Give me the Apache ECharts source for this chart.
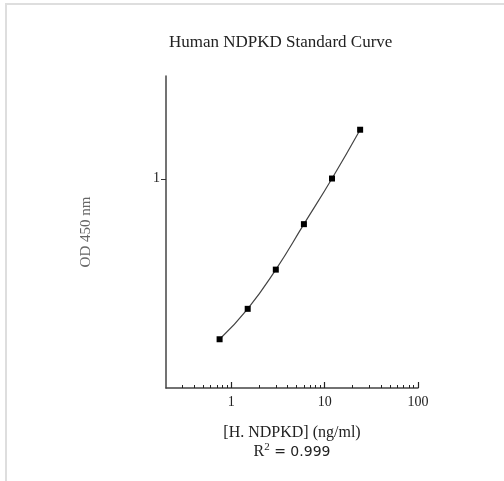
<!DOCTYPE html>
<html>
<head>
<meta charset="utf-8">
<script src="https://cdn.jsdelivr.net/npm/echarts@6/dist/echarts.min.js"></script>
<style>
html,body{margin:0;padding:0;background:#fff;}
#chart{width:504px;height:481px;}
</style>
</head>
<body>
<div id="chart"></div>
<script>
const concentrations = [0.75, 1.5, 3, 6, 12, 24];
const odValues = [0.171, 0.239, 0.368, 0.607, 1.003, 1.716];
const xMajorTicks = [1, 10, 100];
const xMinorTicks = [0.3, 0.4, 0.5, 0.6, 0.7, 0.8, 0.9, 2, 3, 4, 5, 6, 7, 8, 9, 20, 30, 40, 50, 60, 70, 80, 90];
const yTicks = [1];

const serif = '"Liberation Serif", "DejaVu Serif", serif';
const chart = echarts.init(document.getElementById('chart'));
chart.setOption({
  backgroundColor: '#fff',
  animation: false,
  title: {
    text: 'Human NDPKD Standard Curve',
    left: 164, top: 29,
    textStyle: {fontFamily: serif, fontSize: 17, fontWeight: 'normal', color: '#222'}
  },
  grid: {left: 166, right: 86, top: 76, bottom: 93},
  xAxis: [{
    type: 'log', logBase: 10, min: 0.2, max: 100,
    name: '[H. NDPKD] (ng/ml)', nameLocation: 'middle', nameGap: 37,
    nameTextStyle: {fontFamily: serif, fontSize: 16, color: '#222'},
    axisLine: {show: true, lineStyle: {color: '#444', width: 1.5}},
    axisTick: {show: true, inside: true, length: 3, customValues: xMinorTicks, lineStyle: {color: '#222', width: 1}},
    axisLabel: {customValues: xMajorTicks, fontFamily: serif, fontSize: 14, color: '#222', margin: 7},
    splitLine: {show: false}
  }, {
    type: 'log', logBase: 10, min: 0.2, max: 100, position: 'bottom',
    axisLine: {show: false},
    axisTick: {show: true, inside: true, length: 6, customValues: xMajorTicks, lineStyle: {color: '#222', width: 1.2}},
    axisLabel: {show: false},
    splitLine: {show: false}
  }],
  yAxis: {
    type: 'log', logBase: 10, min: 0.1, max: 3.1,
    name: 'OD 450 nm', nameLocation: 'middle', nameGap: 72, nameRotate: 90,
    nameTextStyle: {fontFamily: serif, fontSize: 15, color: '#666'},
    axisLine: {show: true, lineStyle: {color: '#444', width: 1.5}},
    axisTick: {show: true, inside: false, length: 5, customValues: yTicks, lineStyle: {color: '#333', width: 1}},
    axisLabel: {customValues: yTicks, fontFamily: serif, fontSize: 14, color: '#222', margin: 6},
    splitLine: {show: false}
  },
  series: [{
    type: 'line',
    data: concentrations.map((c, i) => [c, odValues[i]]),
    smooth: 0.5,
    symbol: 'rect', symbolSize: 6,
    itemStyle: {color: '#000'},
    lineStyle: {color: '#444', width: 1.2}
  }],
  graphic: [
    {type: 'line', shape: {x1: 5, y1: 4, x2: 504, y2: 4}, style: {stroke: '#dedede', lineWidth: 2}, silent: true},
    {type: 'line', shape: {x1: 6, y1: 3, x2: 6, y2: 481}, style: {stroke: '#dedede', lineWidth: 2}, silent: true},
    {type: 'text', x: 292, y: 452, style: {
      text: '{r|R}{s|2}{t| = 0.999}',
      align: 'center', verticalAlign: 'middle',
      rich: {
        r: {fontFamily: serif, fontSize: 16, fill: '#222', lineHeight: 20},
        s: {fontFamily: serif, fontSize: 11, fill: '#222', lineHeight: 20, verticalAlign: 'top', padding: [0, 0, 14, 0]},
        t: {fontFamily: '"DejaVu Sans", sans-serif', fontSize: 14, fill: '#222', lineHeight: 20}
      }
    }}
  ]
});
</script>
</body>
</html>
